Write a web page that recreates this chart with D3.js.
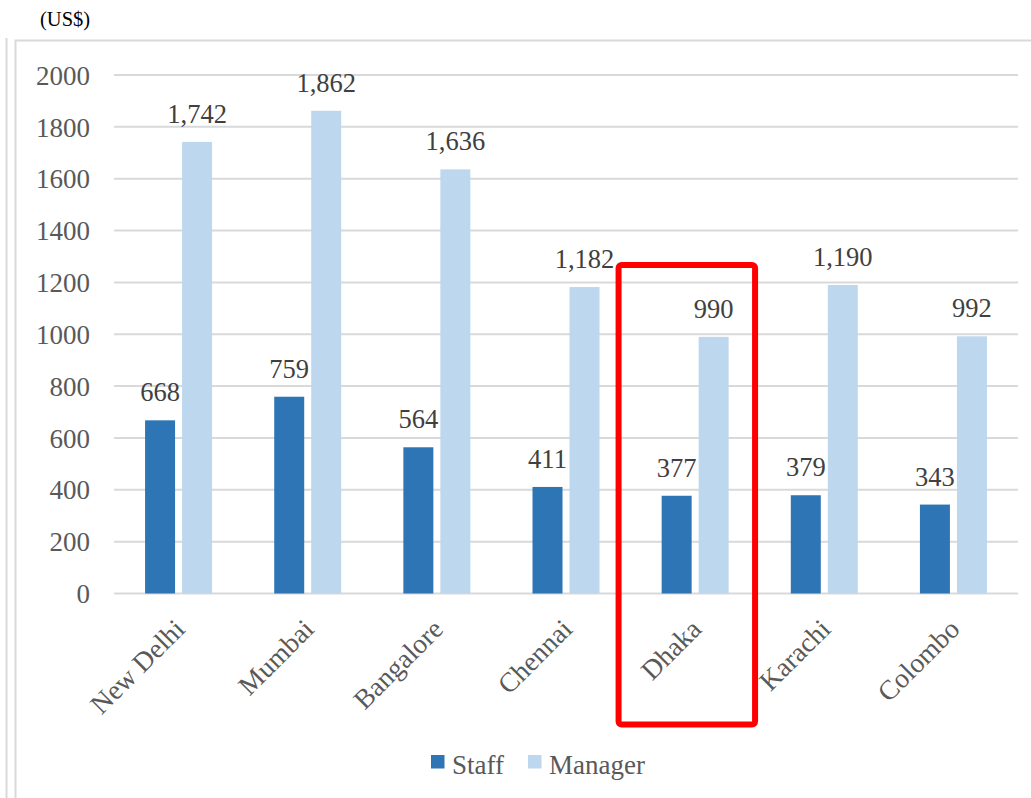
<!DOCTYPE html>
<html>
<head>
<meta charset="utf-8">
<script src="https://cdn.jsdelivr.net/npm/d3@7/dist/d3.min.js"></script>
<style>
  html, body { margin: 0; padding: 0; background: #ffffff; }
  svg { display: block; }
</style>
</head>
<body>
<svg id="chart" width="1031" height="798"></svg>
<script>
// Monthly base salary by city (US$)
const cities = ["New Delhi", "Mumbai", "Bangalore", "Chennai", "Dhaka", "Karachi", "Colombo"];
const staff = [668, 759, 564, 411, 377, 379, 343];
const manager = [1742, 1862, 1636, 1182, 990, 1190, 992];
const seriesNames = ["Staff", "Manager"];
const seriesColors = ["#2E75B6", "#BDD7EE"];
const yTicks = [0, 200, 400, 600, 800, 1000, 1200, 1400, 1600, 1800, 2000];
const highlightCity = "Dhaka";
const unitLabel = "(US$)";

(function () {
  const svg = d3.select("#chart");
  const font = "'Liberation Serif', 'Times New Roman', serif";

  // panel edges
  svg.append("line").attr("x1", 6.5).attr("x2", 6.5).attr("y1", 38).attr("y2", 798)
    .attr("stroke", "#D9D9D9").attr("stroke-width", 2);
  svg.append("rect").attr("x", 15.5).attr("y", 40.5).attr("width", 1030).attr("height", 800)
    .attr("fill", "none").attr("stroke", "#D9D9D9").attr("stroke-width", 2);

  svg.append("text").attr("x", 40).attr("y", 26)
    .attr("font-family", font).attr("font-size", 20.5).attr("fill", "#000")
    .text(unitLabel);

  const plotLeft = 114, plotRight = 1018, plotTop = 75, plotBottom = 593.5;
  const x = d3.scaleBand().domain(cities).range([plotLeft, plotRight]);
  const y = d3.scaleLinear().domain([0, 2000]).range([plotBottom, plotTop]);

  const barW = 30, gap = 7;
  const groupW = barW * 2 + gap;
  const offset = (x.bandwidth() - groupW) / 2;

  // gridlines
  svg.append("g").selectAll("line").data(yTicks).join("line")
    .attr("x1", plotLeft).attr("x2", plotRight)
    .attr("y1", d => y(d)).attr("y2", d => y(d))
    .attr("stroke", "#D9D9D9").attr("stroke-width", 2);

  // y axis labels
  const yAxis = d3.axisLeft(y).tickValues(yTicks).tickFormat(d3.format("d")).tickSize(0).tickPadding(0);
  const yg = svg.append("g").attr("transform", "translate(90,0)").call(yAxis);
  yg.select(".domain").remove();
  yg.selectAll("text").attr("font-family", font).attr("font-size", 27).attr("fill", "#595959")
    .attr("dy", "0.34em");

  // bars with value labels
  const seriesData = [staff, manager];
  seriesData.forEach((vals, si) => {
    const g = svg.append("g");
    g.selectAll("rect").data(cities).join("rect")
      .attr("x", c => x(c) + offset + si * (barW + gap))
      .attr("width", barW)
      .attr("y", (c, i) => y(vals[i]))
      .attr("height", (c, i) => plotBottom - y(vals[i]))
      .attr("fill", seriesColors[si]);
    g.selectAll("text").data(cities).join("text")
      .attr("x", c => x(c) + offset + si * (barW + gap) + barW / 2)
      .attr("y", (c, i) => y(vals[i]) - 19)
      .attr("text-anchor", "middle")
      .attr("font-family", font).attr("font-size", 26.5).attr("fill", "#404040")
      .text((c, i) => d3.format(",")(vals[i]));
  });

  // category labels, rotated
  svg.append("g").selectAll("text").data(cities).join("text")
    .attr("transform", c => `translate(${x(c) + x.bandwidth() / 2 + 1},624) rotate(-45)`)
    .attr("text-anchor", "end")
    .attr("dy", "0.35em")
    .attr("font-family", font).attr("font-size", 27.5).attr("fill", "#595959")
    .text(c => c);

  // highlight box around one city
  const hx = x(highlightCity);
  svg.append("rect")
    .attr("x", hx - 12).attr("y", 265)
    .attr("width", 136.5).attr("height", 459.5)
    .attr("rx", 3)
    .attr("fill", "none").attr("stroke", "#FF0000").attr("stroke-width", 6);

  // legend
  const legendPos = [431, 528];
  const lg = svg.append("g");
  seriesNames.forEach((name, i) => {
    lg.append("rect").attr("x", legendPos[i]).attr("y", 755).attr("width", 13.5).attr("height", 13.5)
      .attr("fill", seriesColors[i]);
    lg.append("text").attr("x", legendPos[i] + 21).attr("y", 774)
      .attr("font-family", font).attr("font-size", 27).attr("fill", "#595959")
      .text(name);
  });
})();
</script>
</body>
</html>
